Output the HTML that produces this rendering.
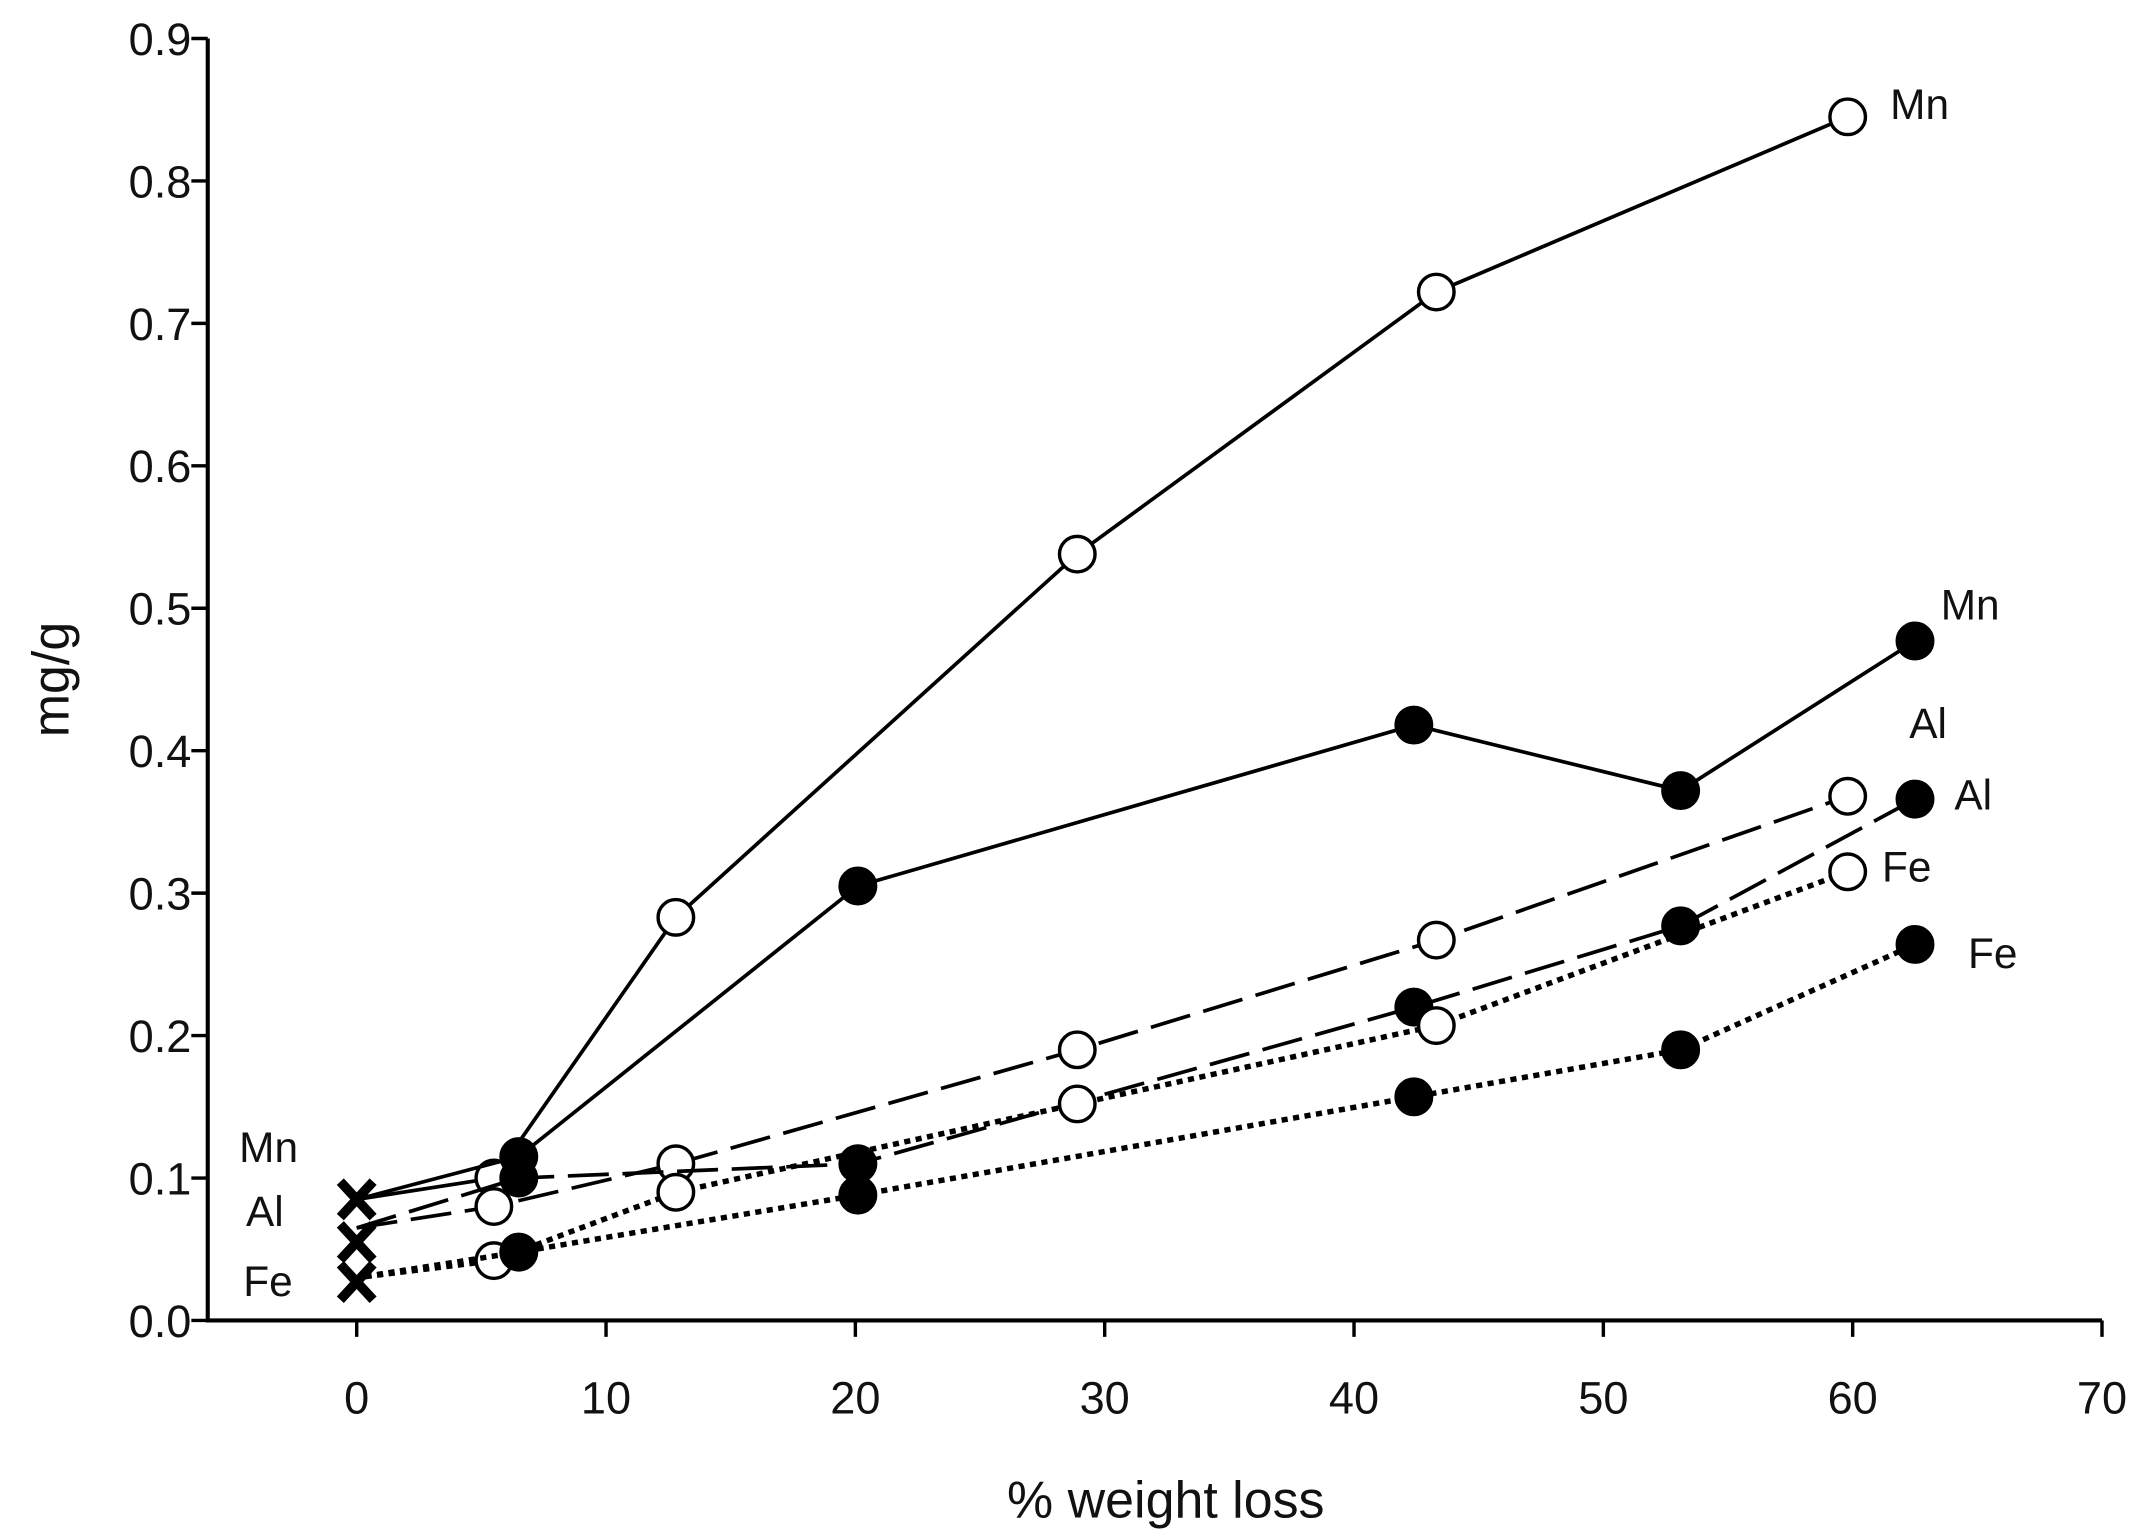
<!DOCTYPE html>
<html><head><meta charset="utf-8"><style>
html,body{margin:0;padding:0;background:#fff;}
svg{display:block;}
text{font-family:"Liberation Sans",Arial,sans-serif;fill:#111;}
</style></head><body>
<svg id="chart" width="2143" height="1538" viewBox="0 0 1568 1125" xmlns="http://www.w3.org/2000/svg">
<g id="axes"></g>
<g id="series"></g>
<g id="labels"></g>
</svg>
<script>
const xTicks=[0,10,20,30,40,50,60,70];
const yTicks=[0.0,0.1,0.2,0.3,0.4,0.5,0.6,0.7,0.8,0.9];
const mnOpenX=[0,5.5,12.8,28.9,43.3,59.8];
const mnOpenY=[0.085,0.10,0.283,0.538,0.722,0.845];
const mnFillX=[0,6.5,20.1,42.4,53.1,62.5];
const mnFillY=[0.085,0.115,0.305,0.418,0.372,0.477];
const alOpenX=[0,5.5,12.8,28.9,43.3,59.8];
const alOpenY=[0.065,0.08,0.11,0.19,0.267,0.368];
const alFillX=[0,6.5,20.1,42.4,53.1,62.5];
const alFillY=[0.065,0.10,0.11,0.22,0.277,0.366];
const feOpenX=[0,5.5,12.8,28.9,43.3,59.8];
const feOpenY=[0.03,0.042,0.09,0.152,0.207,0.315];
const feFillX=[0,6.5,20.1,42.4,53.1,62.5];
const feFillY=[0.03,0.048,0.088,0.157,0.19,0.264];
const startX=[0,0,0];
const startY=[0.085,0.055,0.027];

const NS="http://www.w3.org/2000/svg";
const X0=152,X1=1538,Y0=966,Y1=28;
function sx(v){return 261+(v-0)*(1538-261)/70;}
function sy(v){return 966-v*(966-28)/0.9;}
function mk(tag,attrs,parent){const e=document.createElementNS(NS,tag);for(const k in attrs)e.setAttribute(k,attrs[k]);parent.appendChild(e);return e;}
const axes=document.getElementById('axes'),series=document.getElementById('series'),labels=document.getElementById('labels');

let a=mk('line',{x1:X0,y1:Y0,x2:X1,y2:Y0,stroke:'#000','stroke-width':3},axes);

a=mk('line',{x1:X0,y1:Y0+1.5,x2:X0,y2:Y1,stroke:'#000','stroke-width':3},axes);

xTicks.forEach(t=>{
 const l=mk('line',{x1:sx(t),y1:Y0,x2:sx(t),y2:Y0+12,stroke:'#000','stroke-width':2.5},axes);
 
 
 const tx=mk('text',{x:sx(t),y:1034,'font-size':33,'text-anchor':'middle'},axes);tx.textContent=String(t);
 
 
});
yTicks.forEach(t=>{
 const l=mk('line',{x1:X0-12,y1:sy(t),x2:X0,y2:sy(t),stroke:'#000','stroke-width':2.5},axes);
 
 
 const tx=mk('text',{x:140,y:sy(t)+12,'font-size':33,'text-anchor':'end'},axes);tx.textContent=t.toFixed(1);
 
 
});
let tt=mk('text',{x:853,y:1110,'font-size':38,'text-anchor':'middle'},axes);tt.textContent='% weight loss';

tt=mk('text',{x:0,y:0,'font-size':38,'text-anchor':'middle',transform:'translate(50,497) rotate(-90)'},axes);tt.textContent='mg/g';


function drawSeries(xs,ys,dash,filled,name){
 const pts=xs.map((x,i)=>sx(x)+','+sy(ys[i])).join(' ');
 const dotted=dash==='dot';
 const pl=mk('polyline',{points:pts,fill:'none',stroke:'#000','stroke-width':dotted?4:2.7,'stroke-dasharray':dotted?'0.5 8':dash,'stroke-linecap':dotted?'square':'butt'},series);
 
 
 xs.forEach((x,i)=>{
  if(i===0)return;
  const c=mk('circle',{cx:sx(x),cy:sy(ys[i]),r:13,fill:filled?'#000':'#fff',stroke:'#000','stroke-width':2.5},series);
  
  
 });
}
drawSeries(mnOpenX,mnOpenY,'none',false,'mn-open');
drawSeries(mnFillX,mnFillY,'none',true,'mn-filled');
drawSeries(alOpenX,alOpenY,'30 10',false,'al-open');
drawSeries(alFillX,alFillY,'30 10',true,'al-filled');
drawSeries(feOpenX,feOpenY,'dot',false,'fe-open');
drawSeries(feFillX,feFillY,'dot',true,'fe-filled');
startX.forEach((x,i)=>{
 const cx=sx(x),cy=sy(startY[i]);
 const p=mk('path',{d:`M${cx-12} ${cy-13}L${cx+12} ${cy+13}M${cx+12} ${cy-13}L${cx-12} ${cy+13}`,stroke:'#000','stroke-width':7},series);
 
 
});
const labelData=[['Mn',1383,87],['Mn',1420,453],['Al',1397,540],['Al',1430,592],['Fe',1377,645],['Fe',1440,708],['Mn',175,850],['Al',180,897],['Fe',178,948]];
labelData.forEach(d=>{
 const t=mk('text',{x:d[1],y:d[2],'font-size':31},labels);t.textContent=d[0];
 
 
});
</script>
</body></html>
